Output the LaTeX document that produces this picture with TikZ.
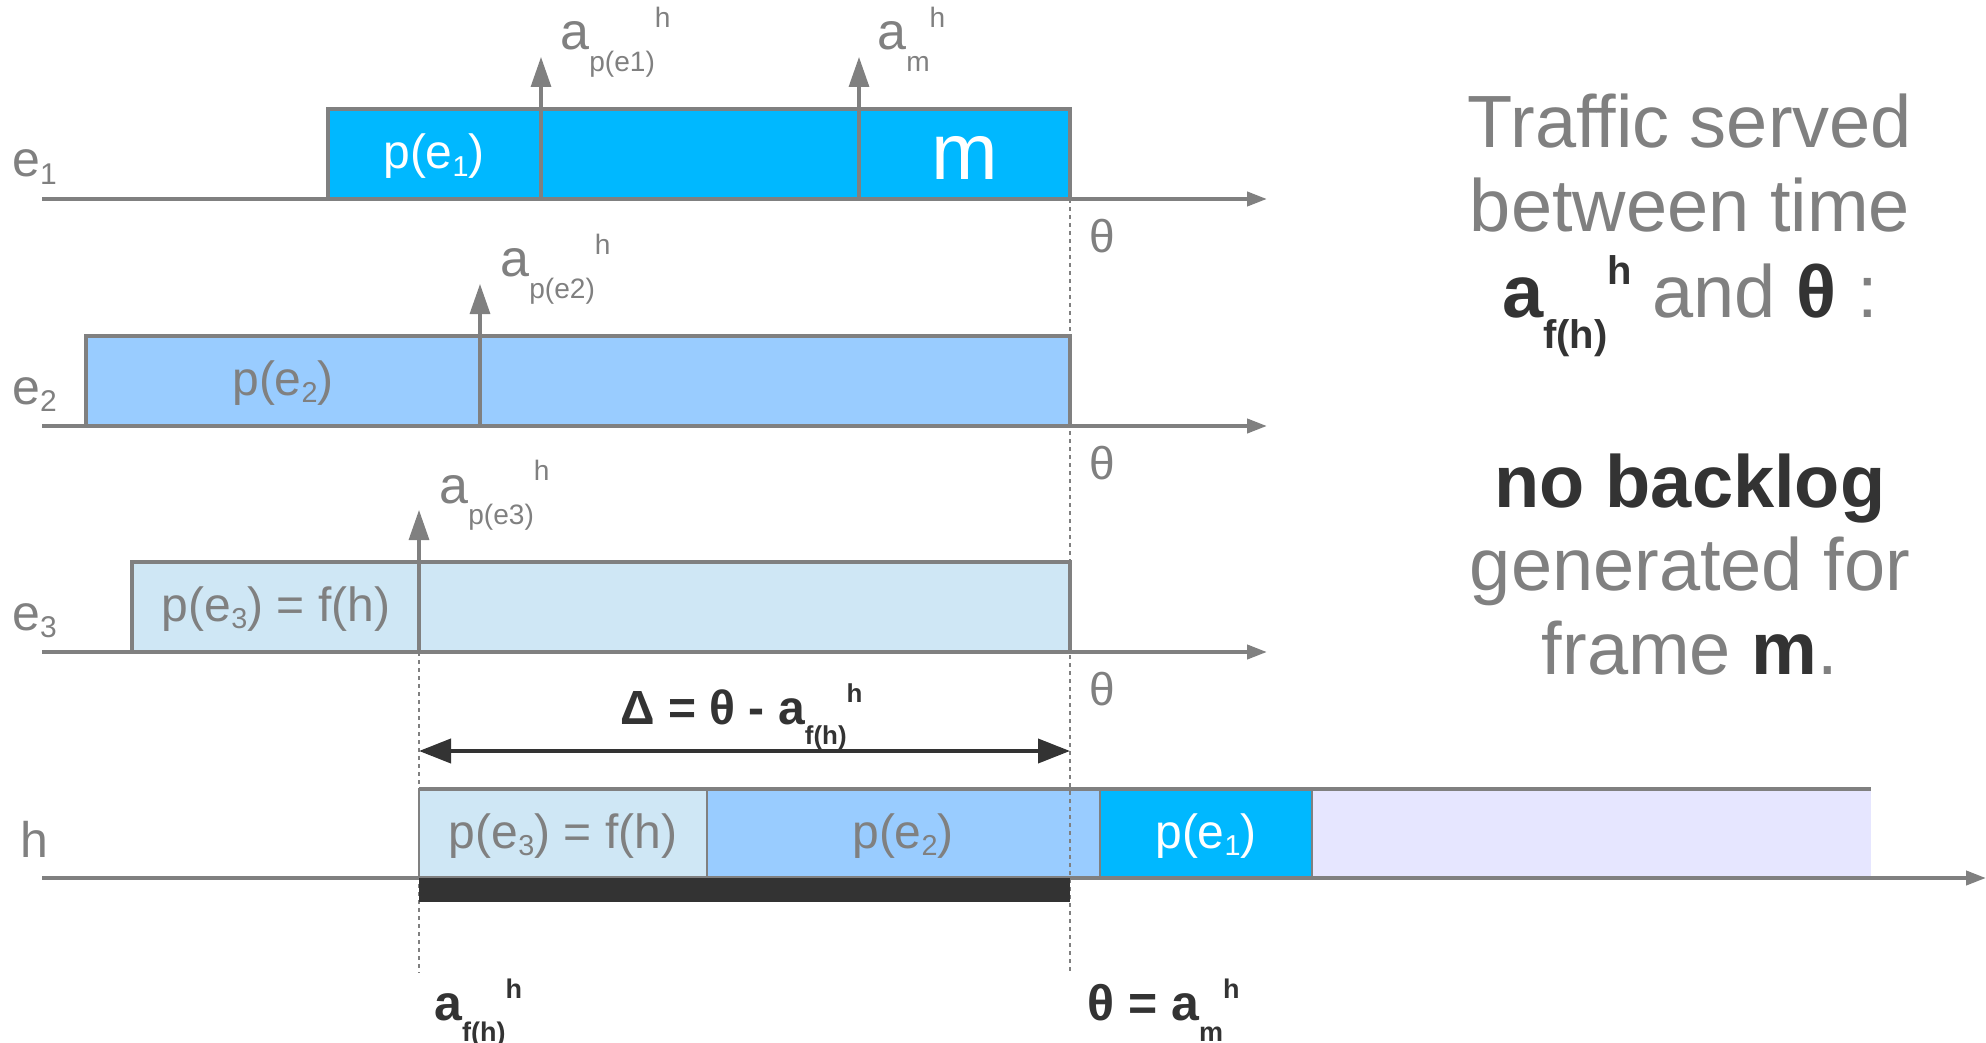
\documentclass[tikz,border=0pt]{standalone}
\usepackage{fontspec}
\setmainfont{Liberation Sans}
\usepackage{graphicx}
\usepackage{tikz}
\usetikzlibrary{arrows.meta}
\definecolor{txtgray}{RGB}{128,128,128}
\definecolor{txtdark}{RGB}{51,51,51}
\definecolor{eoneblue}{RGB}{0,184,255}
\definecolor{etwoblue}{RGB}{153,204,255}
\definecolor{ethreeblue}{RGB}{207,231,245}
\definecolor{restlav}{RGB}{230,230,255}
\newcommand\subsup[3]{#1\raisebox{-.42em}{\scalebox{.54}{#2}}\raisebox{.44em}{\scalebox{.54}{#3}}}
\newcommand\idx[2]{#1\raisebox{-.15em}{\scalebox{.6}{#2}}}
\tikzset{
    timeaxis/.style={draw=txtgray, line width=2pt, -{Triangle[length=10pt,width=7pt]}},
    slotbox/.style={draw=txtgray, line width=1.8pt},
    slotsep/.style={draw=txtgray, line width=1.2pt},
    arrival/.style={draw=txtgray, line width=1.6pt, -{Triangle[length=15pt,width=10pt]}},
    thetaline/.style={draw=txtgray, line width=1.3pt, dash pattern=on 2pt off 2pt},
    spanarrow/.style={draw=txtdark, line width=2pt, {Triangle[length=16pt,width=12pt]}-{Triangle[length=16pt,width=12pt]}},
    elab/.style={anchor=base west, inner sep=0pt, txtgray, font=\fontsize{25}{30}\selectfont},
    boxtxt/.style={anchor=base, inner sep=0pt, font=\fontsize{24}{29}\selectfont},
    alab/.style={anchor=base west, inner sep=0pt, txtgray, font=\fontsize{26}{31}\selectfont},
    thlab/.style={inner sep=0pt, txtgray, font=\fontsize{23}{28}\selectfont},
    dlab/.style={anchor=base west, inner sep=0pt, txtdark, font=\fontsize{24}{29}\selectfont\bfseries},
    blab/.style={anchor=base west, inner sep=0pt, txtdark, font=\fontsize{25}{30}\selectfont\bfseries},
    rtxt/.style={anchor=base, inner sep=0pt, txtgray, font=\fontsize{37}{44}\selectfont},
}
\begin{document}
\begin{tikzpicture}[x=0.5pt,y=-0.5pt]
  \useasboundingbox (0,0) rectangle (1986,1043);
  % slots of the three edges
  \draw[slotbox, fill=eoneblue] (328,109) rectangle (1070,199);
  \draw[slotbox, fill=etwoblue] (86,336) rectangle (1070,426);
  \draw[slotbox, fill=ethreeblue] (132,562) rectangle (1070,652);
  % slots on h
  \foreach \xa/\xb/\col in {419/707/ethreeblue,707/1100/etwoblue,1100/1312/eoneblue,1312/1871/restlav}
    \fill[\col] (\xa,789) rectangle (\xb,878);
  \foreach \xx in {419,707,1100,1312}
    \draw[slotsep] (\xx,789) -- (\xx,878);
  \draw[slotbox] (419,789) -- (1871,789);
  % theta and a_f(h) marks
  \coordinate (th-top) at (1070,199);
  \coordinate (th-bot) at (1070,973);
  \coordinate (af-top) at (419,652);
  \coordinate (af-bot) at (419,973);
  \draw[thetaline] (th-top) -- (th-bot);
  \draw[thetaline] (af-top) -- (af-bot);
  % arrivals
  \foreach \n/\xx/\yy in {pe1/541/199,m/859/199,pe2/480/426,pe3/419/652}{
    \coordinate (arr-\n-b) at (\xx,\yy);
    \coordinate (arr-\n-t) at (\xx,\yy-142);
    \draw[arrival] (arr-\n-b) -- (arr-\n-t);
  }
  % time axes
  \foreach \r/\yy in {1/199,2/426,3/652}{
    \coordinate (ax\r-s) at (42,\yy);
    \coordinate (ax\r-e) at (1267,\yy);
    \draw[timeaxis] (ax\r-s) -- (ax\r-e);
    \node[elab] (e\r-lab) at (12,\yy-22) {\idx{e}{\r}};
    \node[thlab] (th\r) at (1102,\yy+37) {θ};
  }
  \coordinate (axh-s) at (42,878);
  \coordinate (axh-e) at (1986,878);
  \draw[timeaxis] (axh-s) -- (axh-e);
  \node[elab] (h-lab) at (20,857) {h};
  \fill[txtdark] (419,878) rectangle (1070,902);
  % slot texts
  \node[boxtxt, white] (s-pe1) at (434,169) {p(\idx{e}{1})};
  \node[boxtxt, white, font=\fontsize{40}{48}\selectfont] (s-m) at (965,180) {m};
  \node[boxtxt, txtgray] (s-pe2) at (283,395) {p(\idx{e}{2})};
  \node[boxtxt, txtgray] (s-pe3) at (276,621) {p(\idx{e}{3}) = f(h)};
  \node[boxtxt, txtgray] (h-pe3) at (563,848) {p(\idx{e}{3}) = f(h)};
  \node[boxtxt, txtgray] (h-pe2) at (903,848) {p(\idx{e}{2})};
  \node[boxtxt, white] (h-pe1) at (1206,848) {p(\idx{e}{1})};
  % arrival labels
  \node[alab] (a-pe1) at (560,50) {\subsup{a}{p(e1)}{h}};
  \node[alab] (a-m) at (877,50) {\subsup{a}{m}{h}};
  \node[alab] (a-pe2) at (500,277) {\subsup{a}{p(e2)}{h}};
  \node[alab] (a-pe3) at (439,503) {\subsup{a}{p(e3)}{h}};
  % span
  \coordinate (dl) at (419,751);
  \coordinate (dr) at (1070,751);
  \draw[spanarrow] (dl) -- (dr);
  \node[dlab] (delta) at (620,724) {Δ = θ - \subsup{a}{f(h)}{h}};
  \node[blab] (af-lab) at (434,1020) {\subsup{a}{f(h)}{h}};
  \node[blab] (th-lab) at (1087,1020) {θ = \subsup{a}{m}{h}};
  % right text
  \node[rtxt] (r1) at (1690,148) {Traffic served};
  \node[rtxt] (r2) at (1690,232) {between time};
  \node[rtxt] (r3) at (1690,317) {\textcolor{txtdark}{\bfseries\subsup{a}{f(h)}{h}} and \textcolor{txtdark}{\bfseries θ} :};
  \node[rtxt] (r4) at (1690,507) {\textcolor{txtdark}{\bfseries no backlog}};
  \node[rtxt] (r5) at (1690,590) {generated for};
  \node[rtxt] (r6) at (1690,674) {frame \textcolor{txtdark}{\bfseries m}.};
\end{tikzpicture}
\end{document}
